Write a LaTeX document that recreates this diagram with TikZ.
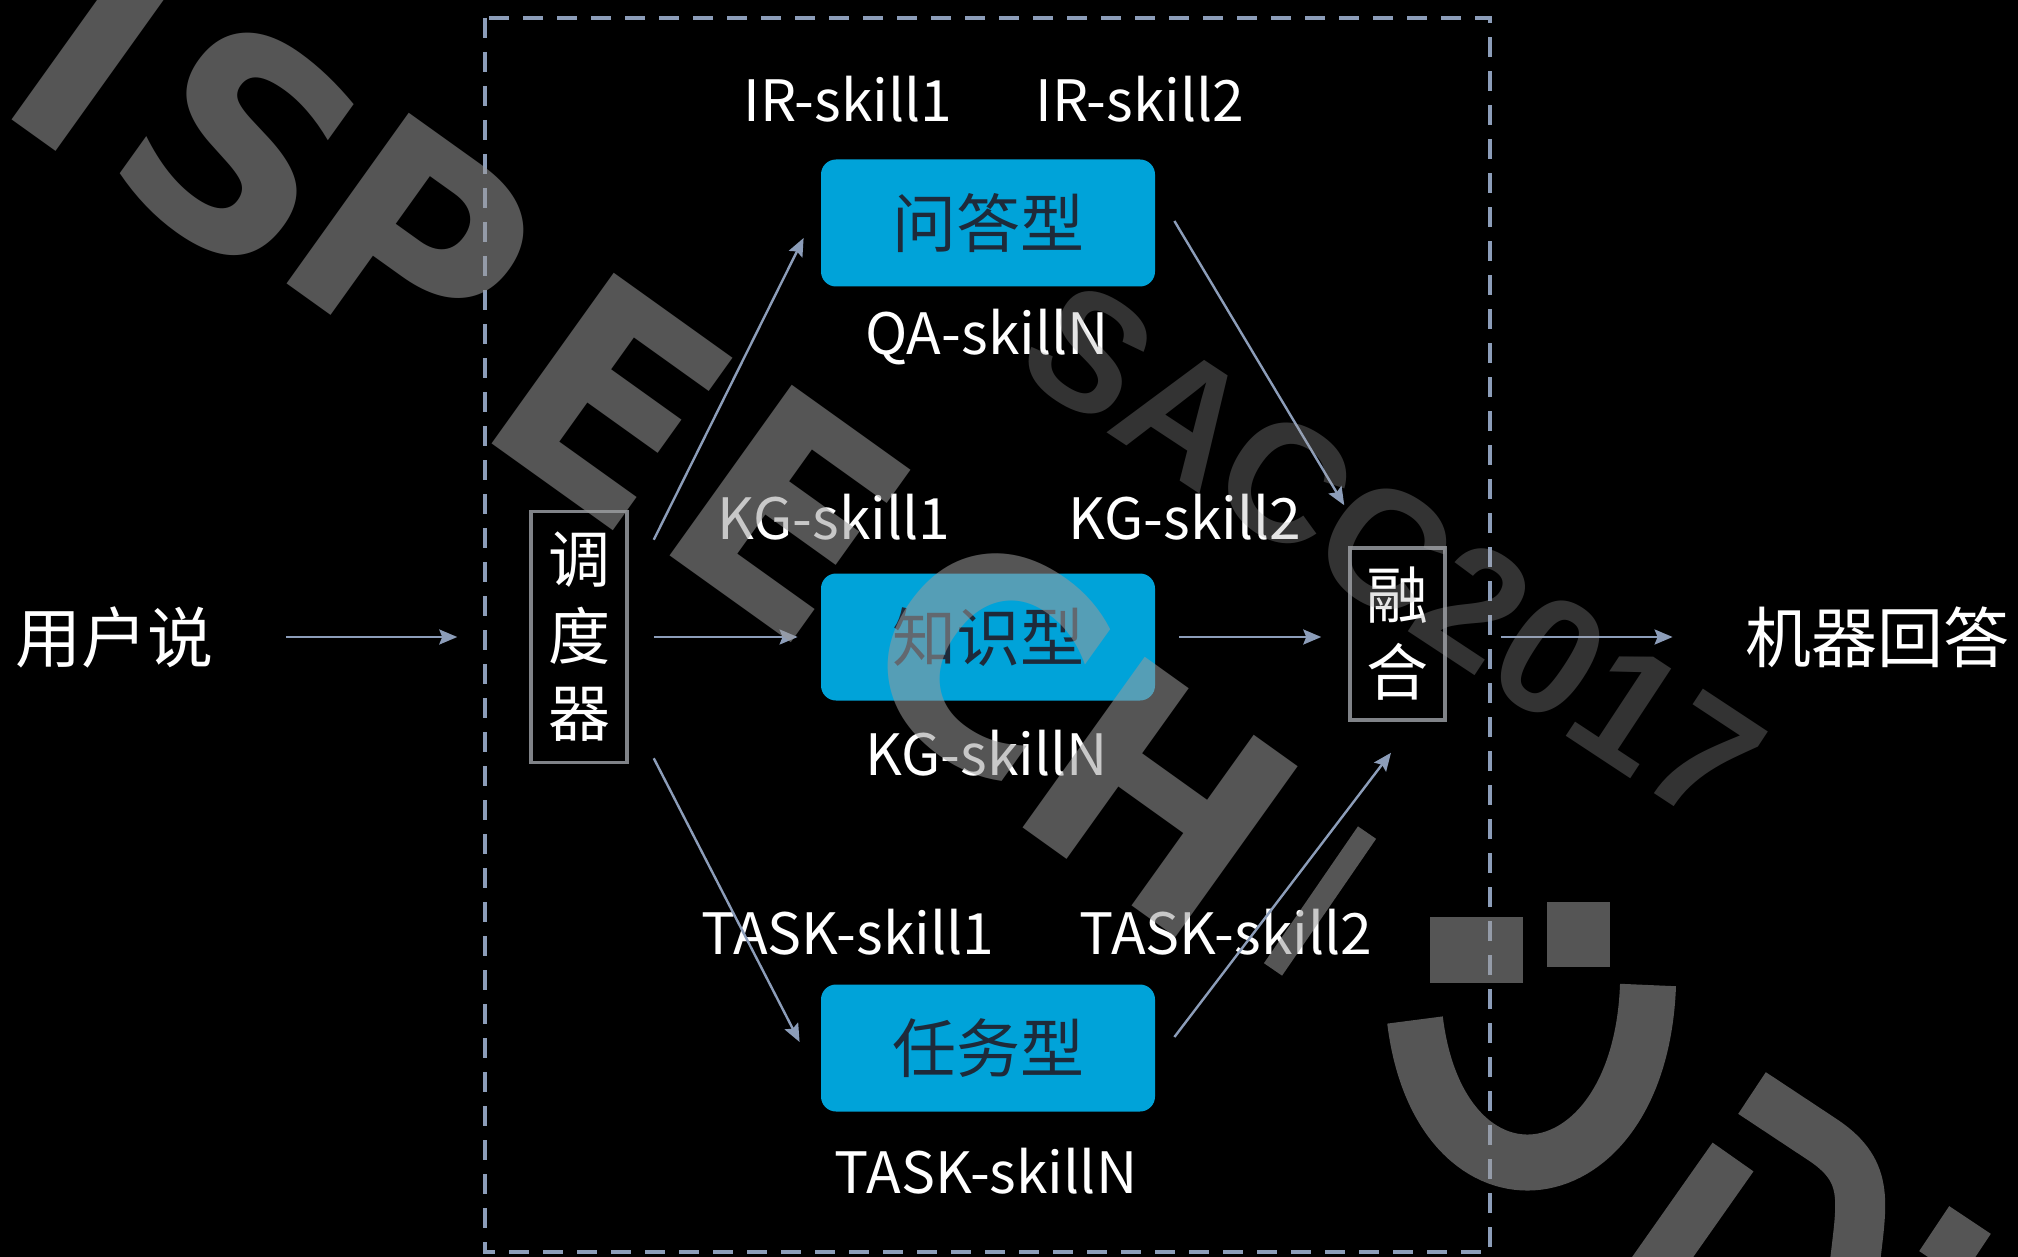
\documentclass[tikz,border=0pt]{standalone}
\usepackage{fontspec}
\setmainfont{Noto Sans CJK SC}
\newfontfamily\wmfont{DejaVu Sans}
\newfontfamily\accfont{Liberation Sans}
\usetikzlibrary{arrows.meta}
\definecolor{boxcyan}{RGB}{0,163,217}
\definecolor{boxtext}{RGB}{30,42,58}
\definecolor{linecol}{RGB}{140,157,185}
\definecolor{framegray}{RGB}{128,131,136}
\definecolor{wmgray}{RGB}{155,155,155}
\definecolor{wmdark}{RGB}{170,170,170}
\begin{document}
\begin{tikzpicture}[x=0.5pt,y=-0.5pt,
  lbl/.style={text=white,font=\fontsize{28.5}{34}\selectfont,inner sep=0pt},
  cn/.style={text=white,font=\fontsize{33}{40}\selectfont,inner sep=0pt},
  skillbox/.style={fill=boxcyan,rounded corners=7.5pt,minimum width=167pt,minimum height=63.5pt,
    text=boxtext,font=\fontsize{32}{38}\selectfont,inner sep=0pt},
  vbox/.style={draw=framegray,line width=1.75pt,text=white,align=center,inner sep=0pt,
    font=\fontsize{31}{38.5}\selectfont},
  arr/.style={draw=linecol,line width=1.2pt,-{Stealth[length=9pt,width=7.5pt,inset=1.5pt]}},
  frame/.style={draw=linecol,line width=1.75pt,dash pattern=on 10pt off 7pt},
  wm/.style={text=wmgray,text opacity=0.55,inner sep=0pt,rotate=-35.6,
    font=\wmfont\bfseries\fontsize{144}{144}\selectfont},
  wmfill/.style={fill=wmgray,fill opacity=0.55},
  wmline/.style={draw=wmgray,draw opacity=0.55},
  wmb/.style={text=wmdark,text opacity=0.3,inner sep=0pt}
]
\fill[black] (0,0) rectangle (2018,1257);
\useasboundingbox (0,0) rectangle (2018,1257);

% dashed frame
\draw[frame] (485,18) rectangle (1490,1252);

% nodes
\node[cn] (user) at (114,637) {用户说};
\node[vbox,minimum width=48pt,minimum height=125.5pt] (sched) at (579,637) {调\\度\\器};
\node[skillbox] (qa) at (988,223) {问答型};
\node[skillbox] (kg) at (988,637) {知识型};
\node[skillbox] (task) at (988,1048) {任务型};
\node[vbox,minimum width=47.5pt,minimum height=86pt] (fuse) at (1397.5,634) {融\\合};
\node[cn] (out) at (1877,637) {机器回答};

% skill labels
\node[lbl] (ir1) at (848,99) {IR-skill1};
\node[lbl] (ir2) at (1140,99) {IR-skill2};
\node[lbl] (qan) at (987,337) {QA-skillN};
\node[lbl] (kg1) at (834,517) {KG-skill1};
\node[lbl] (kg2) at (1185,517) {KG-skill2};
\node[lbl] (kgn) at (987,753) {KG-skillN};
\node[lbl] (t1) at (848,932) {TASK-skill1};
\node[lbl] (t2) at (1226,932) {TASK-skill2};
\node[lbl] (tn) at (986,1171) {TASK-skillN};

% connectors
\draw[arr] ([shift={(73,0)}]user.east) -- ([shift={(-72,0)}]sched.west);
\draw[arr] ([shift={(25,30)}]sched.north east) -- ([shift={(-17,15)}]qa.west);
\draw[arr] ([shift={(25,0)}]sched.east) -- ([shift={(-23,0)}]kg.west);
\draw[arr] ([shift={(25,-6)}]sched.south east) -- ([shift={(-21,-6)}]task.west);
\draw[arr] ([shift={(19,-2)}]qa.east) -- ([shift={(-4,-41)}]fuse.north west);
\draw[arr] ([shift={(24,0)}]kg.east) -- ([shift={(-27,3)}]fuse.west);
\draw[arr] ([shift={(19,-11)}]task.east) -- ([shift={(-6.5,31)}]fuse.south);
\draw[arr] ([shift={(54,3)}]fuse.east) -- ([shift={(-72,0)}]out.west);

% watermark
\node[wmb,rotate=-33.4,font=\accfont\bfseries\fontsize{83}{83}\selectfont] (wmacc) at (1393,553) {SACC2017};
\node[wm] (wI) at (95,50) {I};
\node[wm] (wS) at (241,145) {S};
\node[wm] (wP) at (412,245) {P};
\node[wm] (wE1) at (612,400) {E};
\node[wm] (wE2) at (790,512) {E};
\node[wm] (wC) at (985,655) {C};
\node[wm] (wH) at (1161,797) {H};
\fill[wmfill,rotate around={55.5:(1320,901)}] (1237,890) rectangle (1403,912);
\draw[wmline,line width=28pt] (1415,1020) .. controls (1440,1225) and (1640,1205) .. (1648,985);
\fill[wmfill] (1430,917) rectangle (1523,983);
\fill[wmfill] (1547,902) rectangle (1610,967);
\draw[wmline,line width=25pt] (1752,1093) -- (1820,1138) .. controls (1870,1170) and (1862,1200) .. (1855,1262);
\draw[wmline,line width=25pt] (1733,1157) -- (1650,1275);
\draw[wmline,line width=25pt] (1970,1220) -- (1940,1265);
\end{tikzpicture}
\end{document}
